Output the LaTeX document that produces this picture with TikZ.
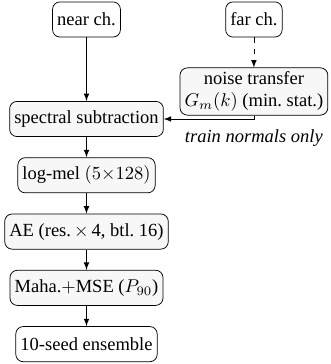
\documentclass[tikz,border=0pt]{standalone}
\usepackage{amsmath}
\usepackage{amssymb}
\usepackage{xcolor}
\usepackage{fontspec}
\setmainfont{Liberation Serif}
\usepackage{tikz}
\usetikzlibrary{positioning}

\tikzset{
    stage/.style={draw, rounded corners=4pt, fill=gray!6, inner xsep=2.5pt, minimum height=19pt},
    io/.style={stage, fill=white},
}

\begin{document}
\begin{tikzpicture}[>=latex, node distance=11pt]
    \useasboundingbox (0,0) rectangle (6.283,-6.91);

    % inputs
    \node[io] (near) at (1.642,-0.37) {near ch.};
    \node[io] (far) at (4.82,-0.37) {far ch.};
    \node[stage, align=center, inner ysep=2pt] (noise) at (4.82,-1.737) {noise transfer\\$G_m(k)$ (min.\ stat.)};

    % main chain
    \node[stage] (spec) at (1.642,-2.259) {spectral subtraction};
    \node[stage, below=of spec] (mel) {log-mel $(5{\times}128)$};
    \node[stage, below=of mel] (ae) {AE (res.$\,\times\,$4, btl.~16)};
    \node[stage, below=of ae] (score) {Maha.$+$MSE ($P_{90}$)};
    \node[io, below=of score] (ens) {10-seed ensemble};

    \draw[->] (near) -- (spec);
    \draw[->, dashed] (far) -- (noise);
    \draw[->] (noise.south) |- (spec.east)
        node[pos=0.5, below=2pt, font=\itshape] (note) {train normals only};
    \draw[->] (spec) -- (mel);
    \draw[->] (mel) -- (ae);
    \draw[->] (ae) -- (score);
    \draw[->] (score) -- (ens);
\end{tikzpicture}
\end{document}
